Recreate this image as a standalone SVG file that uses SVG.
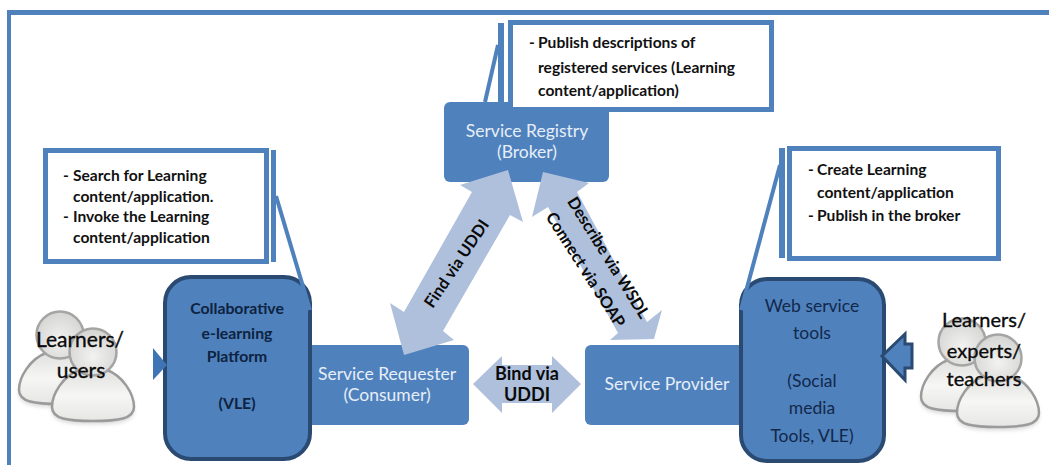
<svg xmlns="http://www.w3.org/2000/svg" width="1049" height="469" viewBox="0 0 1049 469">
<style>
text{font-family:Lato,"Liberation Sans",sans-serif}
.box{fill:#4f81bd}
.tool{fill:#4f81bd;stroke:#2a4a72;stroke-width:4}
.call{fill:#fff;stroke:#4f81bd;stroke-width:5}
.bar{fill:#4f81bd}
.lead{stroke:#4f81bd;stroke-width:4;fill:none}
.arr{fill:#afc0dc}
.w{fill:#e6eef8;font-size:17.5px;text-anchor:middle}
.note{fill:#111;font-size:15.6px;font-weight:700}
.lab{fill:#0a0a0a;font-size:18px;font-weight:700;text-anchor:middle}
.rot{fill:#0a0a0a;font-size:16.3px;font-weight:700;text-anchor:middle}
.vle{fill:#0d2340;font-size:15.8px;font-weight:700;text-anchor:middle}
.web{fill:#12284a;font-size:17.5px;text-anchor:middle}
.ppl{fill:#0a0a0a;stroke:#0a0a0a;stroke-width:.35px;font-size:21px;text-anchor:middle}
.ppr{font-size:20px}
</style>
<defs>
<radialGradient id="gh" cx="0.5" cy="0.6" r="0.6"><stop offset="0" stop-color="#f2f2f0"/><stop offset="1" stop-color="#d4d4d2"/></radialGradient>
<linearGradient id="gb" x1="0" y1="0" x2="0" y2="1"><stop offset="0" stop-color="#e0e0de"/><stop offset="0.5" stop-color="#f6f6f4"/><stop offset="1" stop-color="#e6e6e4"/></linearGradient>
<filter id="sh" x="-20%" y="-20%" width="140%" height="140%"><feGaussianBlur stdDeviation="2"/></filter>
<g id="person">
<path d="M-14,18C-30,24-41,42-41,55C-41,67-25,69 0,69C25,69 41,67 41,55C41,42 30,24 14,18Z" fill="#888" opacity=".35" filter="url(#sh)" transform="translate(0,3)"/>
<path d="M-14,18C-30,24-41,42-41,55C-41,67-25,69 0,69C25,69 41,67 41,55C41,42 30,24 14,18Z" fill="url(#gb)" stroke="#9b9b9b" stroke-width="2.5"/>
<circle r="23.5" fill="url(#gh)" stroke="#a5a5a5" stroke-width="2.5"/>
</g>
</defs>
<rect width="1049" height="469" fill="#fff"/>
<g id="frame"><rect x="7" y="10" width="1042" height="5" fill="#4f81bd"/><rect x="7" y="10" width="4" height="455" fill="#4f81bd"/></g>
<g id="registry"><rect class="box" x="444" y="102" width="165" height="80" rx="6"/><text class="w" x="527" y="137">Service Registry</text><text class="w" x="527" y="158">(Broker)</text></g>
<g id="requester"><rect class="box" x="300" y="345" width="169" height="80" rx="6"/><text class="w" x="387" y="380">Service Requester</text><text class="w" x="387" y="401">(Consumer)</text></g>
<g id="provider"><rect class="box" x="585" y="345" width="170" height="80" rx="6"/><text class="w" x="667" y="390">Service Provider</text></g>
<g id="vle"><rect class="tool" x="165" y="277" width="145" height="182" rx="26"/>
<text class="vle" x="237" y="314">Collaborative</text><text class="vle" x="237" y="339">e-learning</text><text class="vle" x="237" y="362">Platform</text><text class="vle" x="237" y="409">(VLE)</text></g>
<g id="webtools"><rect class="tool" x="741" y="279" width="143" height="182" rx="26"/>
<text class="web" x="812" y="312">Web service</text><text class="web" x="812" y="339">tools</text><text class="web" x="812" y="387">(Social</text><text class="web" x="812" y="414">media</text><text class="web" x="812" y="442">Tools, VLE)</text></g>
<g id="connectors">
<polygon class="arr" points="508,170 523,222 510,215 443,331 454,340 404,355 390,303 404,312 472,192 460,185"/>
<polygon class="arr" points="543,172 589,183 577,192 647,322 662,310 654,339 610,340 618,333 548,207 532,217"/>
<polygon class="arr" points="473,384 502,356 502,365 552,365 552,356 581,384 552,413 552,403 502,403 502,413"/>
<polygon fill="#3f74b5" points="153,348 167,365 153,380"/>
<polygon fill="#4f81bd" stroke="#2a4a72" stroke-width="3" points="882,356 905,334 905,344 912,344 912,368 905,368 905,380"/>
<line class="lead" x1="276" y1="196" x2="310" y2="310"/>
<line class="lead" x1="498" y1="45" x2="485" y2="102"/>
<line class="lead" x1="780" y1="165" x2="741" y2="310"/>
<text class="rot" transform="translate(457,264) rotate(-56)" y="5">Find via UDDI</text>
<text class="rot" transform="translate(608,258) rotate(58)" y="5">Describe via WSDL</text>
<text class="rot" transform="translate(585,270) rotate(57.5)" y="5">Connect  via SOAP</text>
<text class="lab" x="527" y="380">Bind via</text><text class="lab" x="527" y="401">UDDI</text>
</g>
<g id="note-consumer"><rect class="bar" x="271" y="150" width="5" height="112"/><rect class="call" x="45.5" y="150.5" width="221" height="111"/>
<text class="note"><tspan x="63" y="181">-</tspan><tspan x="73" y="181">Search for Learning</tspan><tspan x="73" y="202">content/application.</tspan><tspan x="63" y="222">-</tspan><tspan x="73" y="222">Invoke the Learning</tspan><tspan x="73" y="243">content/application</tspan></text></g>
<g id="note-broker"><rect class="bar" x="498" y="23" width="6" height="79"/><rect class="call" x="510.5" y="22.5" width="261" height="87"/>
<text class="note"><tspan x="529" y="48">-</tspan><tspan x="538" y="48">Publish descriptions of</tspan><tspan x="538" y="73">registered services (Learning</tspan><tspan x="538" y="96">content/application)</tspan></text></g>
<g id="note-provider"><rect class="bar" x="779" y="148" width="6" height="110"/><rect class="call" x="789.5" y="148.5" width="209" height="110"/>
<text class="note"><tspan x="808" y="175">-</tspan><tspan x="817" y="175">Create Learning</tspan><tspan x="817" y="198">content/application</tspan><tspan x="808" y="221">-</tspan><tspan x="817" y="221">Publish in the broker</tspan></text></g>
<g id="learners"><use href="#person" x="60" y="335"/><use href="#person" x="93" y="352"/><text class="ppl" x="80" y="347">Learners/</text><text class="ppl" x="81" y="378">users</text></g>
<g id="experts"><use href="#person" x="962" y="342"/><use href="#person" x="998" y="358"/><text class="ppl ppr" x="984" y="327">Learners/</text><text class="ppl ppr" x="984" y="358">experts/</text><text class="ppl ppr" x="984" y="386">teachers</text></g>
</svg>
